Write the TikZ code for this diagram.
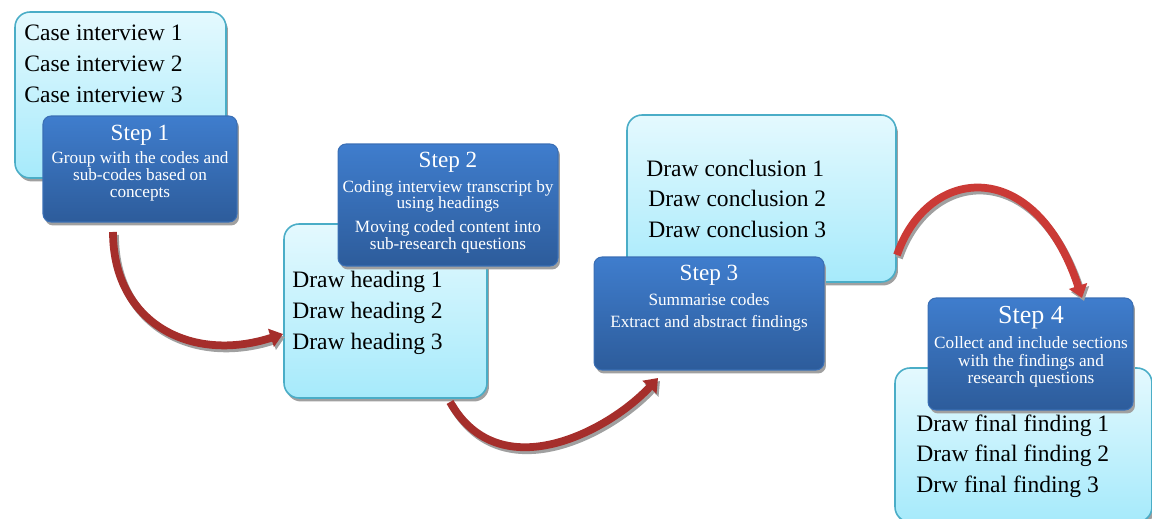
\documentclass[tikz,border=0pt]{standalone}
\usepackage{fontspec}
\setmainfont{Liberation Serif}
\usetikzlibrary{arrows.meta,shadows}

\definecolor{lighttop}{HTML}{E4F9FE}
\definecolor{lightbot}{HTML}{A6EAFB}
\definecolor{lightedge}{HTML}{4AADC7}
\definecolor{darktop}{HTML}{3F7DCD}
\definecolor{darkbot}{HTML}{2D5C9B}
\definecolor{darkedge}{HTML}{3A6FB5}
\definecolor{shadowgray}{HTML}{A0A0A0}
\definecolor{arrowdark}{HTML}{A52E2B}
\definecolor{arrowbright}{HTML}{CB3A36}

\tikzset{
  lightbox/.style={draw=lightedge, line width=0.9pt, rounded corners=0.3cm,
    top color=lighttop, bottom color=lightbot, inner sep=0pt,
    drop shadow={shadow xshift=0.04cm, shadow yshift=-0.07cm, fill=shadowgray, opacity=1}},
  darkbox/.style={draw=darkedge, line width=0.6pt, rounded corners=0.16cm,
    top color=darktop, bottom color=darkbot, inner sep=0pt,
    drop shadow={shadow xshift=0.04cm, shadow yshift=-0.07cm, fill=shadowgray, opacity=1}},
  itemtext/.style={font=\fontsize{13.4}{16}\selectfont, anchor=base west, inner sep=0pt,
    yshift=-0.04cm},
  steptitle/.style={font=\fontsize{13.2}{16}\selectfont, text=white, anchor=base, inner sep=0pt,
    yshift=-0.02cm},
  stepbody/.style={font=\fontsize{9.8}{12}\selectfont, text=white, anchor=base, inner sep=0pt,
    yshift=-0.02cm},
  flowarrow/.style={line width=0.155cm, line cap=butt,
    -{Triangle[width=10.5pt, length=7.2pt]}},
  flowshadow/.style={flowarrow, draw=shadowgray,
    transform canvas={xshift=0.04cm, yshift=-0.06cm}}
}

\begin{document}
\begin{tikzpicture}[x=0.02cm, y=-0.02cm]
\useasboundingbox (0,0) rectangle (1152,519);
\clip (0,0) rectangle (1152,519);

% Stage 1: interviews and step 1
\node[lightbox, minimum width=4.22cm, minimum height=3.32cm] (boxA) at (120.5,95) {};
\node[itemtext] (a1) at (24,39) {Case interview 1};
\node[itemtext] (a2) at (24,70) {Case interview 2};
\node[itemtext] (a3) at (24,101) {Case interview 3};
\node[darkbox, minimum width=3.88cm, minimum height=2.12cm] (s1) at (140,169) {};
\node[steptitle] (s1t) at (140,140) {Step 1};
\node[stepbody] (s1a) at (140,163) {Group with the codes and};
\node[stepbody] (s1b) at (140,180) {sub-codes based on};
\node[stepbody] (s1c) at (140,197) {concepts};

% Stage 2: headings and step 2
\node[lightbox, minimum width=4.06cm, minimum height=3.48cm] (boxB) at (385.5,311) {};
\node[itemtext] (b1) at (292,286) {Draw heading 1};
\node[itemtext] (b2) at (292,317) {Draw heading 2};
\node[itemtext] (b3) at (292,348) {Draw heading 3};
\node[darkbox, minimum width=4.40cm, minimum height=2.44cm] (s2) at (448,205) {};
\node[steptitle] (s2t) at (448,167) {Step 2};
\node[stepbody] (s2a) at (448,192) {Coding interview transcript by};
\node[stepbody] (s2b) at (448,208) {using headings};
\node[stepbody] (s2c) at (448,232) {Moving coded content into};
\node[stepbody] (s2d) at (448,249) {sub-research questions};

% Stage 3: conclusions and step 3
\node[lightbox, minimum width=5.38cm, minimum height=3.34cm] (boxC) at (761.5,198.5) {};
\node[itemtext] (c1) at (646,175) {Draw conclusion 1};
\node[itemtext] (c2) at (648,205) {Draw conclusion 2};
\node[itemtext] (c3) at (648,236) {Draw conclusion 3};
\node[darkbox, minimum width=4.60cm, minimum height=2.26cm] (s3) at (709,313.5) {};
\node[steptitle] (s3t) at (709,280) {Step 3};
\node[stepbody] (s3a) at (709,305) {Summarise codes};
\node[stepbody] (s3b) at (709,327) {Extract and abstract findings};

% Stage 4: final findings and step 4
\node[lightbox, minimum width=5.14cm, minimum height=3.08cm] (boxD) at (1023.5,445) {};
\node[itemtext] (d1) at (916,430) {Draw final finding 1};
\node[itemtext] (d2) at (916,460) {Draw final finding 2};
\node[itemtext] (d3) at (916,491) {Drw final finding 3};
\node[darkbox, minimum width=4.10cm, minimum height=2.24cm] (s4) at (1030.5,354) {};
\node[steptitle, font=\fontsize{14.8}{16}\selectfont] (s4t) at (1031,323) {Step 4};
\node[stepbody] (s4a) at (1031,348) {Collect and include sections};
\node[stepbody] (s4b) at (1031,366) {with the findings and};
\node[stepbody] (s4c) at (1031,383) {research questions};

% Curved connectors between the stages
\coordinate (r1s) at (113,232);
\coordinate (r1e) at (283,334);
\coordinate (r2s) at (450,402);
\coordinate (r2e) at (658,378);
\coordinate (r3s) at (897,255);
\coordinate (r3e) at (1082,298);

\draw[flowshadow] (r1s) .. controls (113,322) and (190,364) .. (r1e);
\draw[flowarrow, draw=arrowdark] (r1s) .. controls (113,322) and (190,364) .. (r1e);

\draw[flowshadow] (r2s) .. controls (500,490) and (610,430) .. (r2e);
\draw[flowarrow, draw=arrowdark] (r2s) .. controls (500,490) and (610,430) .. (r2e);

\draw[flowshadow] (r3s) .. controls (928,165) and (1035,155) .. (r3e);
\draw[flowarrow, draw=arrowbright] (r3s) .. controls (928,165) and (1035,155) .. (r3e);
\end{tikzpicture}
\end{document}
